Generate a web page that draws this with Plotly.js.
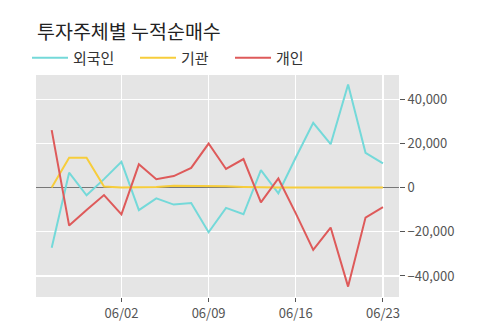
<!DOCTYPE html>
<html>
<head>
<meta charset="utf-8">
<script src="https://cdn.plot.ly/plotly-3.0.1.min.js"></script>
<style>html,body{margin:0;padding:0;background:#fff;}#chart{width:500px;height:323px;}</style>
</head>
<body>
<div id="chart"></div>
<script>
const dates = ['05/27','05/28','05/29','05/30','06/02','06/03','06/04','06/05','06/06','06/09',
               '06/10','06/11','06/12','06/13','06/16','06/17','06/18','06/19','06/20','06/23'];
const foreign = [-27200, 6700, -3500, 3800, 11600, -10200, -4900, -7700, -7000, -20200,
                 -9200, -12100, 7900, -2600, 13600, 29300, 19600, 46600, 15700, 10900];
const institution = [0, 13500, 13500, 500, 0, 0, 300, 800, 800, 800,
                     600, 300, 0, 0, 0, 0, 0, 0, 0, 0];
const individual = [26000, -17200, -10200, -3400, -12100, 10500, 3800, 5200, 8900, 19900,
                    8400, 12900, -6700, 4100, -11700, -28200, -18100, -44800, -13600, -8900];
const tickDates = ['06/02','06/09','06/16','06/23'];
const seriesNames = ['외국인','기관','개인'];

const font = 'Noto Sans CJK KR, Noto Sans, sans-serif';
const colors = ['#74d9d9', '#f7cd3b', '#de5a5a'];
const legendIds = ['legend', 'legend2', 'legend3'];
const data = [foreign, institution, individual].map((v, i) => ({
  x: dates, y: v, type: 'scatter', mode: 'lines', name: seriesNames[i],
  legend: legendIds[i],
  line: {color: colors[i], width: 2}
}));

function legendAt(xpx) {
  return {orientation: 'h', x: (xpx - 36) / 363, xanchor: 'left', y: 1.077, yanchor: 'middle',
          font: {family: font, size: 15, color: '#333'}, itemwidth: 36, bgcolor: 'rgba(0,0,0,0)'};
}

const layout = {
  width: 500, height: 323,
  margin: {l: 36, r: 101, t: 75, b: 26},
  paper_bgcolor: '#ffffff', plot_bgcolor: '#e5e5e5',
  font: {family: font, size: 13, color: '#555'},
  title: {text: '투자주체별 누적순매수', x: 0.074, xanchor: 'left', xref: 'container',
          y: 0.9, yanchor: 'middle', font: {family: font, size: 19.5, color: '#222'}},
  showlegend: true,
  legend: legendAt(27),
  legend2: legendAt(135),
  legend3: legendAt(230),
  xaxis: {type: 'category', range: [-0.9, 19.92], tickvals: tickDates, ticktext: tickDates,
          showgrid: true, gridcolor: '#ffffff', gridwidth: 1.2, zeroline: false,
          ticks: 'outside', ticklen: 4, tickcolor: '#555', showline: false,
          tickfont: {family: font, size: 13, color: '#555'}},
  yaxis: {side: 'right', range: [-49500, 50900], tickvals: [-40000, -20000, 0, 20000, 40000],
          tickformat: ',d', showgrid: true, gridcolor: '#ffffff', gridwidth: 1.2,
          zeroline: true, zerolinecolor: '#777', zerolinewidth: 1.5,
          ticks: 'outside', ticklen: 5, tickcolor: '#555', showline: false,
          tickfont: {family: font, size: 13, color: '#555'}}
};
Plotly.newPlot('chart', data, layout, {displayModeBar: false, staticPlot: true});
</script>
</body>
</html>
